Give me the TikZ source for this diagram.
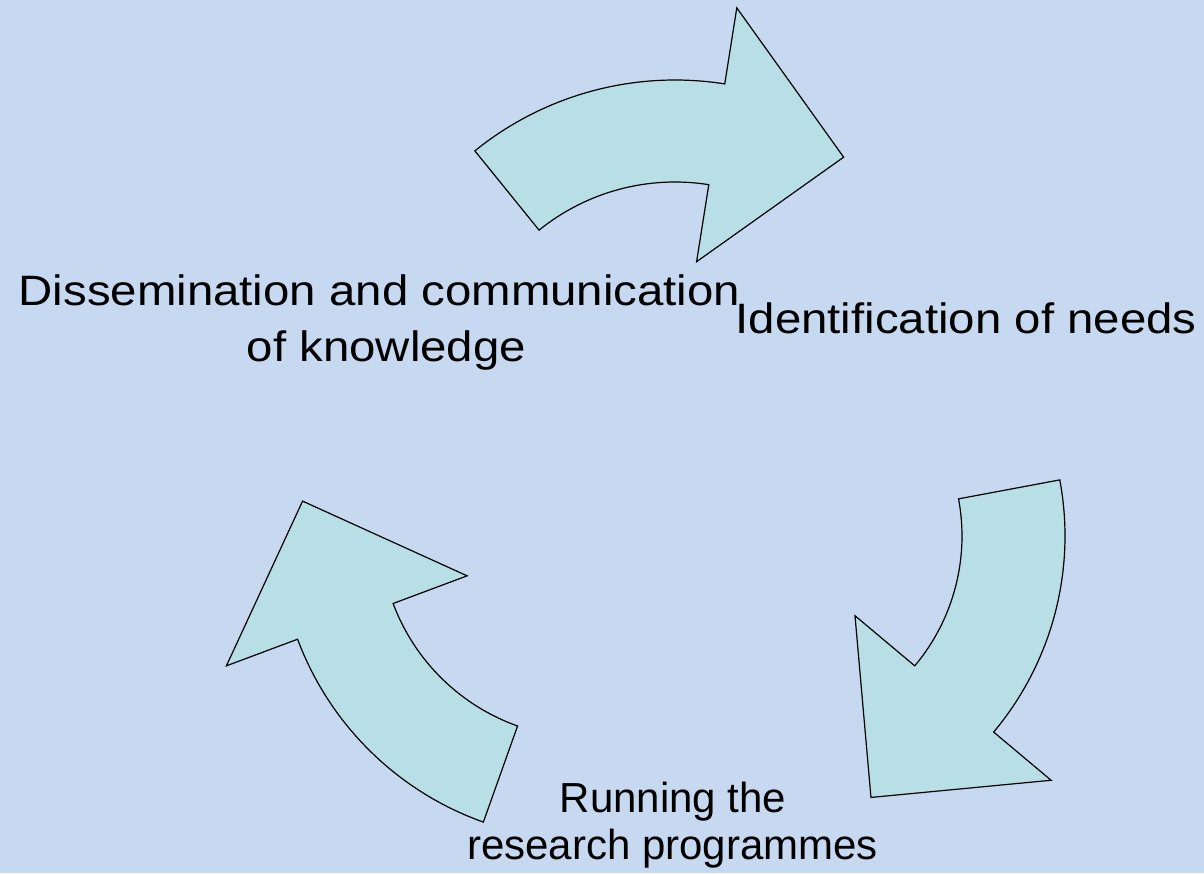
\documentclass[tikz,border=0pt]{standalone}
\usepackage{fontspec}
\usepackage{graphicx}
\setmainfont{Liberation Sans}
\definecolor{bgblue}{HTML}{C6D9F1}
\definecolor{arrowfill}{HTML}{B7DFE5}
\tikzset{
  cyclearrow/.style={draw=black, fill=arrowfill, line width=1.2pt, line join=miter},
  bigtext/.style={inner sep=0pt, anchor=base, font=\fontsize{42.5}{47}\selectfont},
  smalltext/.style={inner sep=0pt, anchor=base, font=\fontsize{42}{46.6}\selectfont}
}
\newcommand{\wide}[1]{\scalebox{1.115}[1]{#1}}
\begin{document}
\begin{tikzpicture}[x=1pt, y=-1pt]
  \path[fill=bgblue] (0,0) rectangle (1204,873);
  \useasboundingbox (0,0) rectangle (1204,873);

  % top arrow
  \begin{scope}[shift={(675,398)}]
    \draw[cyclearrow] (-129:318) arc[start angle=-129, end angle=-81, radius=318]
      -- (-81:395) -- (-55:294) -- (-81:138) -- (-81:216)
      arc[start angle=-81, end angle=-129, radius=216] -- cycle;
  \end{scope}

  % right arrow
  \begin{scope}[shift={(760,536)}]
    \draw[cyclearrow] (-10.6:305) arc[start angle=-10.6, end angle=40, radius=305]
      -- (40:380) -- (67:284) -- (40:124) -- (40:202)
      arc[start angle=40, end angle=-10.6, radius=202] -- cycle;
  \end{scope}

  % left arrow
  \begin{scope}[shift={(587,531)}]
    \draw[cyclearrow] (109.6:309) arc[start angle=109.6, end angle=159.5, radius=309]
      -- (159.5:385) -- (186:286) -- (159.5:128) -- (159.5:207)
      arc[start angle=159.5, end angle=109.6, radius=207] -- cycle;
  \end{scope}

  % labels
  \node[bigtext] (dis1) at (379.5,305) {\wide{Dissemination and communication}};
  \node[bigtext] (dis2) at (386.5,361.7) {\wide{of knowledge}};
  \node[bigtext] (idn) at (966,333.3) {\wide{Identification of needs}};
  \node[smalltext] (run1) at (673,812.7) {Running the};
  \node[smalltext] (run2) at (672.5,859.3) {research programmes};
\end{tikzpicture}
\end{document}
